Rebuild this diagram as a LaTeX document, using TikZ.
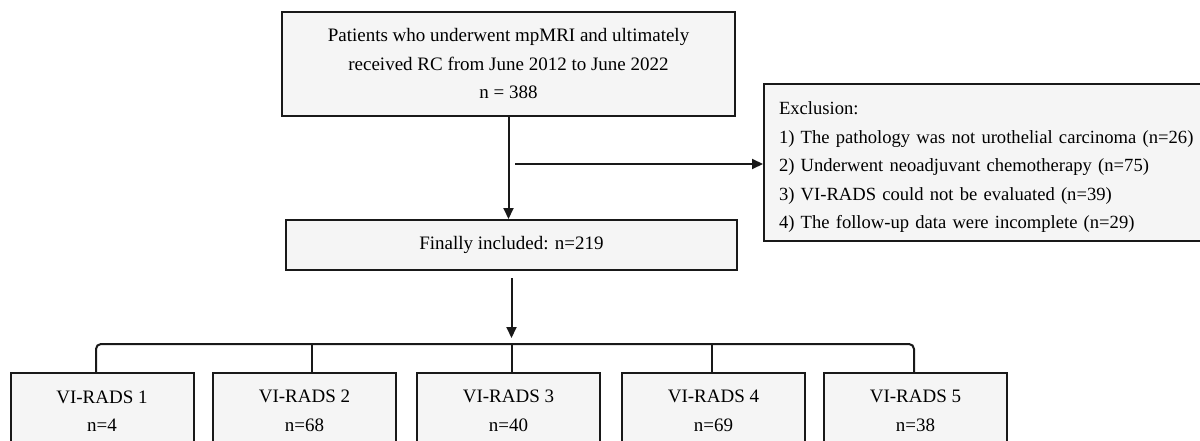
\documentclass[tikz,border=0pt]{standalone}
\usepackage{fontspec}
\setmainfont{Liberation Serif}
\usetikzlibrary{arrows.meta,calc}
\definecolor{boxfill}{RGB}{245,245,245}
\definecolor{linec}{RGB}{25,25,25}
\begin{document}
\begin{tikzpicture}[x=1pt,y=-1pt,
  box/.style={draw=linec, line width=2pt, fill=boxfill, inner sep=0pt, align=center, text=black, font=\fontsize{19}{28.5}\selectfont},
  conn/.style={draw=linec, line width=2pt},
  arr/.style={conn, -{Triangle[length=11pt,width=10pt]}}]
\useasboundingbox (0,0) rectangle (1200,441);
\clip (0,0) rectangle (1200,441);
\node[box, minimum width=453pt, minimum height=104pt] (top) at (508.5,64)
  {Patients who underwent mpMRI and ultimately\\received RC from June 2012 to June 2022\\n = 388};
\node[box, minimum width=451pt, minimum height=50pt] (fin) at (511.5,245) {Finally included: n=219};
\node[box, align=left, anchor=north west, text width=440pt, minimum height=157pt, inner xsep=15pt,
      font=\fontsize{18.6}{28.5}\selectfont] (exc) at (763,83)
  {\rule{0pt}{22pt}Exclusion:\\
   1) The pathology was not urothelial carcinoma (n=26)\\
   2) Underwent neoadjuvant chemotherapy (n=75)\\
   3) VI-RADS could not be evaluated (n=39)\\
   4) The follow-up data were incomplete (n=29)};
\node[box, minimum width=183pt, minimum height=76pt] (b1) at (102,411) {VI-RADS 1\\n=4};
\node[box, minimum width=183pt, minimum height=76pt] (b2) at (304.5,411) {VI-RADS 2\\n=68};
\node[box, minimum width=183pt, minimum height=76pt] (b3) at (508.5,411) {VI-RADS 3\\n=40};
\node[box, minimum width=183pt, minimum height=76pt] (b4) at (713.5,411) {VI-RADS 4\\n=69};
\node[box, minimum width=183pt, minimum height=76pt] (b5) at (915.5,411) {VI-RADS 5\\n=38};
\coordinate (hs) at (515,164);
\draw[arr] (top.south) -- (top.south |- fin.north);
\draw[arr] (hs) -- (exc.west |- hs);
\draw[arr] ([yshift=-7pt]fin.south) -- ++(0,60);
\draw[conn, rounded corners=5pt] ([xshift=-6pt]b1.north) -- ++(0,-28) -| ([xshift=-1.5pt]b5.north);
\draw[conn] ([xshift=7.5pt]b2.north) -- ++(0,-28);
\draw[conn] ([xshift=3.5pt]b3.north) -- ++(0,-28);
\draw[conn] ([xshift=-1.5pt]b4.north) -- ++(0,-28);
\end{tikzpicture}
\end{document}
